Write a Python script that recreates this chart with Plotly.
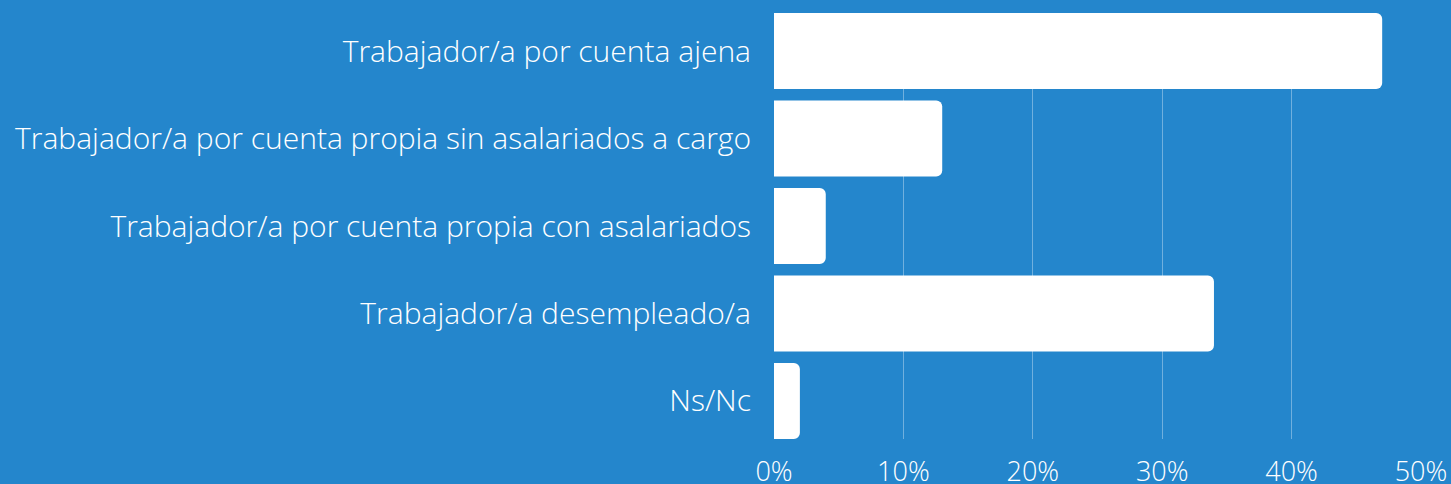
import plotly.graph_objects as go

categories = [
    "Trabajador/a por cuenta ajena",
    "Trabajador/a por cuenta propia sin asalariados a cargo",
    "Trabajador/a por cuenta propia con asalariados",
    "Trabajador/a desempleado/a",
    "Ns/Nc",
]
values = [47, 13, 4, 34, 2]
tick_vals = [0, 10, 20, 30, 40, 50]
tick_text = ["0%", "10%", "20%", "30%", "40%", "50%"]

BG = "#2486CC"
FAMILY = "Open Sans, Raleway, sans-serif"
YFONT = dict(family=FAMILY, color="white", size=30, weight=300)
XFONT = dict(family=FAMILY, color="white", size=27, weight=300)

fig = go.Figure(
    go.Bar(
        x=values,
        y=categories,
        orientation="h",
        marker=dict(color="white", line=dict(width=0), cornerradius=6),
        hoverinfo="x+y",
    )
)

fig.update_layout(
    width=1451,
    height=484,
    paper_bgcolor=BG,
    plot_bgcolor=BG,
    margin=dict(l=774, r=30, t=13, b=45, pad=0),
    bargap=0.131,
    showlegend=False,
    font=YFONT,
)
fig.update_xaxes(
    range=[0, 50],
    tickvals=tick_vals,
    ticktext=tick_text,
    showgrid=True,
    gridcolor="rgba(255,255,255,0.35)",
    gridwidth=1,
    zeroline=False,
    showline=False,
    ticks="",
    ticklabelstandoff=14,
    tickfont=XFONT,
    automargin=False,
)
fig.update_yaxes(
    autorange=False,
    range=[4.4345, -0.4345],
    showgrid=False,
    zeroline=False,
    showline=False,
    ticks="",
    ticklabelstandoff=22,
    tickfont=YFONT,
    automargin=False,
)

fig.write_html(
    "out.html",
    config={"displayModeBar": False},
    post_script="document.body.style.margin='0';document.body.style.background='" + BG + "';",
)
